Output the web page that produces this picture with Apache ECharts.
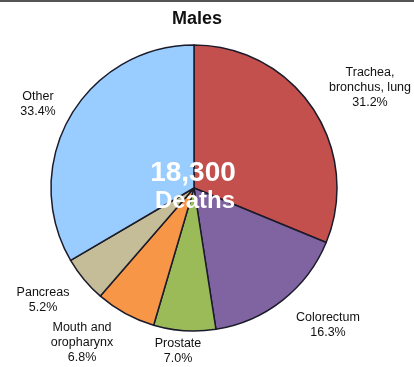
<!DOCTYPE html>
<html>
<head>
<meta charset="utf-8">
<script src="https://cdn.jsdelivr.net/npm/echarts@6/dist/echarts.min.js"></script>
<style>
  html, body { margin: 0; padding: 0; background: #fff; }
  #chart { width: 414px; height: 367px; }
</style>
</head>
<body>
<div id="chart"></div>
<script>
// Cancer deaths among males, share by site (percent)
const sites = ['Trachea,\nbronchus, lung', 'Colorectum', 'Prostate', 'Mouth and\noropharynx', 'Pancreas', 'Other'];
const shares = [31.2, 16.3, 7.0, 6.8, 5.2, 33.4];
const totalLabel = '18,300';
const totalCaption = 'Deaths';
const chartTitle = 'Males';

const sliceColors = ['#c4504e', '#8064a2', '#9bbb59', '#f79646', '#c4bd97', '#99ccff'];
// Label anchor points (centre of each text block)
const labelSpots = [[370, 88], [328, 325], [178, 351], [82, 343], [43, 300], [38, 104]];

const chart = echarts.init(document.getElementById('chart'), null, { renderer: 'canvas' });

const whiteText = (text, x, y, size) => ({
  type: 'text', z: 100,
  style: {
    text, x, y, align: 'center', verticalAlign: 'middle',
    font: 'bold ' + size + 'px "Liberation Sans", Arial, sans-serif', fill: '#ffffff',
    shadowColor: 'rgba(0,0,0,0.55)', shadowBlur: 3
  }
});

chart.setOption({
  backgroundColor: '#ffffff',
  animation: false,
  graphic: [
    { type: 'rect', shape: { x: 0, y: 0, width: 414, height: 2 }, style: { fill: '#555' }, z: 10 },
    {
      type: 'text', z: 10,
      style: {
        text: chartTitle, x: 197, y: 19, align: 'center', verticalAlign: 'middle',
        font: 'bold 18px "Liberation Sans", Arial, sans-serif', fill: '#111'
      }
    },
    whiteText(totalLabel, 193, 173, 28),
    whiteText(totalCaption, 195, 201, 24)
  ],
  series: [{
    type: 'pie',
    center: [194, 188],
    radius: 143,
    startAngle: 90,
    clockwise: true,
    minAngle: 0,
    avoidLabelOverlap: false,
    data: sites.map((name, i) => ({
      name, value: shares[i],
      itemStyle: { color: sliceColors[i] }
    })),
    itemStyle: { borderColor: '#1b1b2b', borderWidth: 1.5 },
    label: {
      show: true,
      position: 'outside',
      formatter: p => p.name + '\n' + p.value.toFixed(1) + '%',
      fontFamily: 'Liberation Sans, Arial, sans-serif',
      fontSize: 12.5,
      lineHeight: 15,
      color: '#111',
      align: 'center'
    },
    labelLine: { show: false },
    labelLayout: p => ({
      x: labelSpots[p.dataIndex][0],
      y: labelSpots[p.dataIndex][1],
      align: 'center',
      verticalAlign: 'middle'
    }),
    emphasis: { disabled: true }
  }]
});
</script>
</body>
</html>
